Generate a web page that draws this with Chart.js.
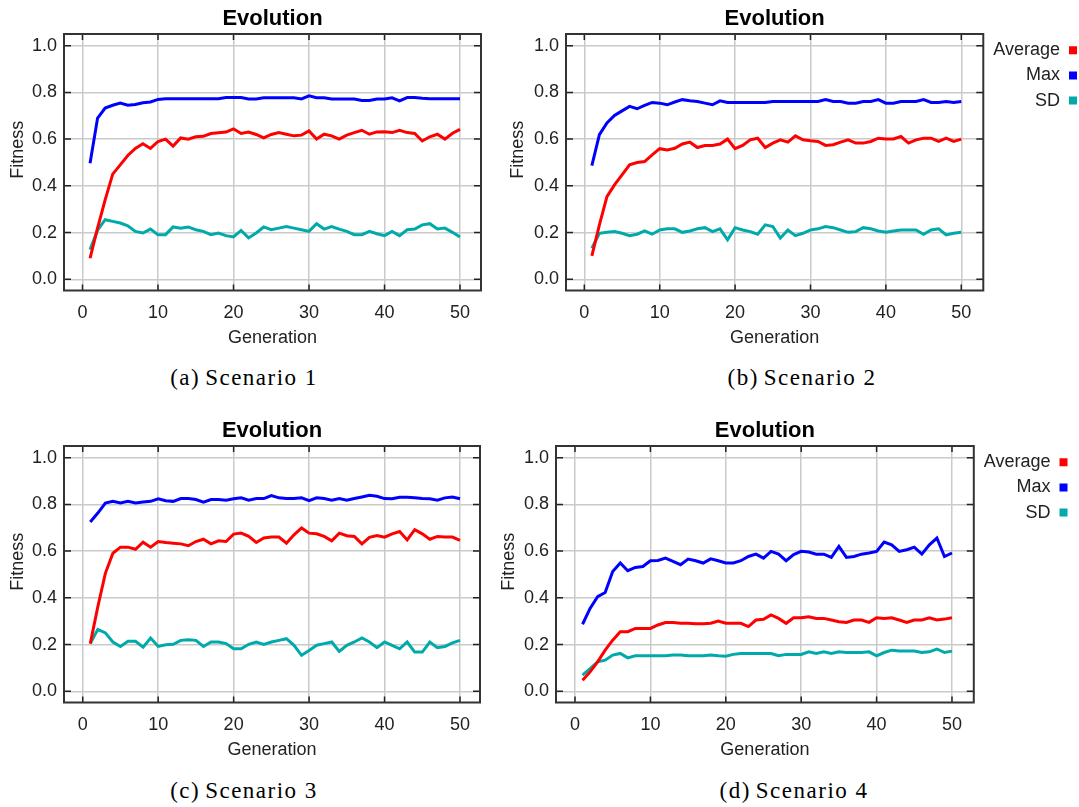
<!DOCTYPE html>
<html>
<head>
<meta charset="utf-8">
<script src="https://cdn.jsdelivr.net/npm/chart.js@4.4.1/dist/chart.umd.min.js"></script>
<style>
  html, body { margin: 0; padding: 0; background: #fff; overflow: hidden; }
  body { width: 1079px; height: 807px; position: relative; }
  canvas { position: absolute; }
  .legenda { position: absolute; font-family: 'Liberation Serif', serif; font-size: 23px; letter-spacing: 1.5px;
             line-height: 1; color: #000; white-space: nowrap; transform: translateX(-50%); }
  .legenda span { margin-right: 5px; }
</style>
</head>
<body>
<canvas id="graficoA" width="500" height="355" style="left:0px;top:0px"></canvas>
<canvas id="graficoB" width="585" height="355" style="left:500px;top:0px"></canvas>
<canvas id="graficoC" width="500" height="355" style="left:0px;top:412px"></canvas>
<canvas id="graficoD" width="585" height="355" style="left:491px;top:412px"></canvas>
<div class="legenda" style="left:244px;top:366px"><span>(a)</span>Scenario 1</div>
<div class="legenda" style="left:802px;top:366px"><span>(b)</span>Scenario 2</div>
<div class="legenda" style="left:244px;top:779px"><span>(c)</span>Scenario 3</div>
<div class="legenda" style="left:794px;top:779px"><span>(d)</span>Scenario 4</div>
<script>
const geracoes = [1,2,3,4,5,6,7,8,9,10,11,12,13,14,15,16,17,18,19,20,21,22,23,24,25,
  26,27,28,29,30,31,32,33,34,35,36,37,38,39,40,41,42,43,44,45,46,47,48,49,50];
const ticksX = [0, 10, 20, 30, 40, 50];
const ticksY = [0, 0.2, 0.4, 0.6, 0.8, 1.0];
const nomes = ['Average', 'Max', 'SD'];

// CENARIO 1
const mediaA = [0.09,0.22,0.34,0.45,0.49,0.53,0.56,0.58,0.56,0.59,0.60,0.57,0.605,0.60,0.61,0.612,0.624,0.627,0.63,0.644,
  0.624,0.63,0.62,0.605,0.62,0.628,0.621,0.614,0.617,0.635,0.60,0.621,0.614,0.60,0.617,0.628,0.638,0.621,0.631,0.632,
  0.628,0.638,0.628,0.624,0.592,0.61,0.621,0.60,0.625,0.642];
const maxA = [0.497,0.69,0.733,0.745,0.754,0.745,0.748,0.756,0.759,0.77,0.773,0.773,0.773,0.773,0.773,0.773,0.773,0.773,0.778,0.778,
  0.778,0.772,0.772,0.777,0.777,0.777,0.777,0.777,0.772,0.785,0.777,0.777,0.772,0.772,0.772,0.772,0.765,0.765,0.772,0.772,
  0.777,0.764,0.778,0.778,0.775,0.773,0.773,0.773,0.773,0.773];
const dpA = [0.127,0.21,0.255,0.248,0.241,0.229,0.205,0.198,0.215,0.191,0.191,0.224,0.219,0.224,0.212,0.205,0.191,0.198,0.187,0.181,
  0.209,0.177,0.198,0.224,0.212,0.219,0.226,0.219,0.212,0.205,0.238,0.215,0.226,0.215,0.205,0.191,0.191,0.205,0.195,0.187,
  0.205,0.187,0.212,0.215,0.233,0.238,0.215,0.219,0.201,0.181];

// CENARIO 2
const mediaB = [0.10,0.233,0.354,0.404,0.447,0.49,0.50,0.504,0.533,0.559,0.554,0.561,0.579,0.587,0.564,0.573,0.573,0.579,0.60,0.559,
  0.573,0.597,0.604,0.564,0.583,0.597,0.587,0.614,0.597,0.593,0.59,0.573,0.576,0.587,0.597,0.583,0.583,0.59,0.604,0.601,
  0.601,0.611,0.583,0.597,0.604,0.604,0.59,0.604,0.59,0.60];
const maxB = [0.487,0.619,0.669,0.701,0.721,0.74,0.73,0.744,0.757,0.754,0.747,0.759,0.769,0.764,0.761,0.754,0.747,0.764,0.757,0.757,
  0.757,0.757,0.757,0.757,0.761,0.761,0.761,0.761,0.761,0.761,0.761,0.769,0.761,0.761,0.754,0.754,0.761,0.761,0.769,0.754,
  0.754,0.761,0.761,0.761,0.769,0.757,0.757,0.761,0.757,0.761];
const dpB = [0.133,0.197,0.201,0.204,0.197,0.187,0.193,0.207,0.193,0.211,0.216,0.216,0.201,0.207,0.216,0.221,0.204,0.216,0.169,0.221,
  0.211,0.204,0.193,0.233,0.226,0.176,0.211,0.187,0.197,0.211,0.216,0.226,0.221,0.211,0.201,0.204,0.221,0.216,0.207,0.201,
  0.207,0.211,0.211,0.211,0.193,0.211,0.216,0.19,0.197,0.201];

// CENARIO 3
const mediaC = [0.204,0.362,0.505,0.591,0.617,0.617,0.608,0.638,0.617,0.641,0.637,0.634,0.631,0.623,0.641,0.651,0.631,0.644,0.641,0.673,
  0.677,0.663,0.637,0.656,0.66,0.66,0.634,0.67,0.699,0.677,0.674,0.663,0.644,0.677,0.666,0.663,0.631,0.659,0.667,0.66,
  0.674,0.684,0.648,0.692,0.674,0.651,0.663,0.66,0.66,0.646];
const maxC = [0.725,0.763,0.806,0.813,0.806,0.813,0.806,0.81,0.813,0.824,0.816,0.813,0.825,0.825,0.821,0.81,0.821,0.821,0.818,0.824,
  0.828,0.818,0.825,0.825,0.838,0.828,0.825,0.825,0.828,0.816,0.828,0.825,0.818,0.825,0.818,0.825,0.832,0.839,0.835,0.825,
  0.824,0.831,0.831,0.828,0.825,0.824,0.818,0.828,0.832,0.824];
const dpC = [0.204,0.265,0.25,0.211,0.192,0.214,0.214,0.189,0.228,0.192,0.199,0.201,0.218,0.221,0.218,0.192,0.211,0.211,0.204,0.182,
  0.182,0.201,0.211,0.201,0.211,0.218,0.225,0.197,0.154,0.175,0.197,0.204,0.211,0.171,0.197,0.211,0.228,0.211,0.187,0.211,
  0.197,0.182,0.211,0.168,0.168,0.211,0.187,0.192,0.207,0.218];

// CENARIO 4
const mediaD = [0.047,0.083,0.126,0.176,0.219,0.255,0.255,0.269,0.269,0.269,0.284,0.294,0.294,0.291,0.291,0.289,0.289,0.291,0.301,0.291,
  0.291,0.291,0.277,0.305,0.308,0.327,0.312,0.291,0.315,0.315,0.319,0.312,0.312,0.305,0.298,0.295,0.305,0.305,0.295,0.315,
  0.312,0.315,0.305,0.295,0.305,0.305,0.315,0.305,0.309,0.315];
const maxD = [0.287,0.355,0.405,0.423,0.513,0.549,0.516,0.53,0.534,0.559,0.56,0.57,0.556,0.542,0.566,0.559,0.549,0.567,0.559,0.549,
  0.549,0.559,0.577,0.587,0.57,0.599,0.587,0.559,0.585,0.599,0.596,0.587,0.587,0.573,0.62,0.573,0.577,0.587,0.592,0.599,
  0.639,0.627,0.599,0.606,0.617,0.587,0.627,0.656,0.577,0.592];
const dpD = [0.069,0.097,0.126,0.133,0.155,0.162,0.143,0.152,0.152,0.152,0.152,0.152,0.155,0.155,0.152,0.152,0.152,0.155,0.152,0.15,
  0.158,0.162,0.162,0.162,0.162,0.162,0.152,0.158,0.158,0.158,0.169,0.162,0.169,0.162,0.169,0.166,0.166,0.166,0.169,0.152,
  0.166,0.176,0.172,0.172,0.172,0.166,0.169,0.181,0.166,0.172];

const cores = ['#ff0000', '#0000ff', '#00aaaa'];

Chart.defaults.font.family = "'Liberation Sans', Arial, sans-serif";
Chart.defaults.font.size = 18;
Chart.defaults.color = '#222';

// moldura e tracinhos para dentro, como no original
const moldura = {
  id: 'moldura',
  beforeDatasetsDraw(chart) {
    const {ctx, chartArea: a, scales: {x, y}} = chart;
    ctx.save();
    ctx.strokeStyle = '#222';
    ctx.lineWidth = 1.5;
    ctx.beginPath();
    x.ticks.forEach(t => {
      const px = x.getPixelForValue(t.value);
      ctx.moveTo(px, a.top); ctx.lineTo(px, a.top + 6);
      ctx.moveTo(px, a.bottom); ctx.lineTo(px, a.bottom - 6);
    });
    y.ticks.forEach(t => {
      const py = y.getPixelForValue(t.value);
      ctx.moveTo(a.left, py); ctx.lineTo(a.left + 7, py);
      ctx.moveTo(a.right, py); ctx.lineTo(a.right - 7, py);
    });
    ctx.stroke();
    ctx.strokeStyle = '#333';
    ctx.lineWidth = 2;
    ctx.strokeRect(a.left, a.top, a.right - a.left, a.bottom - a.top);
    ctx.restore();
  }
};

function criaGrafico(id, series, cfg) {
  return new Chart(document.getElementById(id), {
    type: 'line',
    data: {
      labels: geracoes,
      datasets: series.map((dados, i) => ({
        label: nomes[i],
        data: dados,
        borderColor: cores[i],
        backgroundColor: cores[i],
        borderWidth: 3,
        pointRadius: 0,
        tension: 0
      }))
    },
    options: {
      responsive: false,
      animation: false,
      devicePixelRatio: 1,
      layout: { padding: { left: 0, top: 0, right: cfg.padDir, bottom: 0 } },
      plugins: {
        tooltip: { enabled: false },
        title: {
          display: true, text: 'Evolution', fullSize: false, color: '#000',
          font: { size: 22, weight: 'bold' }, padding: { top: 5.3, bottom: 2.3 }
        },
        legend: {
          display: cfg.legenda, position: 'right', align: 'start', fullSize: false, rtl: true,
          labels: {
            boxWidth: 8, boxHeight: 8, padding: 7.2, textAlign: 'left', color: '#222',
            font: { size: 18 },
            generateLabels(chart) {
              const itens = Chart.defaults.plugins.legend.labels.generateLabels(chart);
              itens.forEach(it => { it.lineWidth = 0; });
              return itens;
            }
          }
        }
      },
      scales: {
        x: {
          type: 'linear', min: cfg.xMin, max: cfg.xMax, bounds: 'data',
          afterBuildTicks: s => { s.ticks = ticksX.map(v => ({ value: v })); },
          afterFit: s => { s.height = 64.5; },
          grid: { color: '#cacaca', lineWidth: 1.5, drawTicks: false },
          border: { display: false },
          ticks: { padding: 12, maxRotation: 0, autoSkip: false },
          title: { display: true, text: 'Generation', padding: { top: 0, bottom: 6.2 } }
        },
        y: {
          min: -0.048, max: 1.05, bounds: 'data',
          afterBuildTicks: s => { s.ticks = ticksY.map(v => ({ value: v })); },
          afterFit: s => { s.width = cfg.larguraY; },
          grid: { color: '#cacaca', lineWidth: 1.5, drawTicks: false },
          border: { display: false },
          ticks: { padding: 7, callback: v => v.toFixed(1) },
          title: { display: true, text: '     Fitness', padding: { top: 7.7, bottom: 0 } }
        }
      }
    },
    plugins: [moldura]
  });
}

criaGrafico('graficoA', [mediaA, maxA, dpA], { legenda: false, larguraY: 64, padDir: 19, xMin: -2.45, xMax: 52.78 });
criaGrafico('graficoB', [mediaB, maxB, dpB], { legenda: true, larguraY: 66, padDir: 0.8, xMin: -2.43, xMax: 52.92 });
criaGrafico('graficoC', [mediaC, maxC, dpC], { legenda: false, larguraY: 64, padDir: 20, xMin: -2.48, xMax: 52.65 });
criaGrafico('graficoD', [mediaD, maxD, dpD], { legenda: true, larguraY: 65, padDir: 1.3, xMin: -2.52, xMax: 52.89 });
</script>
</body>
</html>
